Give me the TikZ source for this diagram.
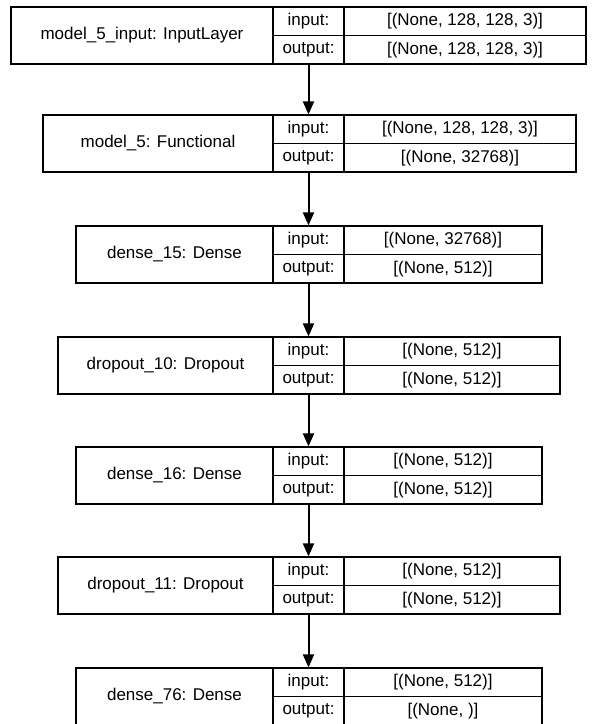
\documentclass[tikz,border=0pt]{standalone}
\usepackage{fontspec}
\setmainfont{Liberation Sans}
\usetikzlibrary{arrows.meta}
\tikzset{
  cell/.style={draw, line width=1.2pt, inner sep=0pt, rectangle, font=\fontsize{17}{19}\selectfont},
  flow/.style={line width=2pt, -{Triangle[length=13pt,width=11pt]}}
}
\newcommand\mylayer[7]{%
  % #1 id, #2 top, #3 left, #4 right, #5 name, #6 in, #7 out
  \pgfmathsetmacro\wn{273-#3}%
  \pgfmathsetmacro\wv{#4-344}%
  \pgfmathsetmacro\cn{(#3+273)/2}%
  \pgfmathsetmacro\cv{(#4+344)/2}%
  \node[cell, minimum width=\wn pt, minimum height=57pt] (#1n) at (\cn,#2+28.5) {#5};
  \node[cell, minimum width=71pt, minimum height=28.5pt] (#1i) at (308.5,#2+14.25) {input:};
  \node[cell, minimum width=71pt, minimum height=28.5pt] (#1o) at (308.5,#2+42.75) {output:};
  \node[cell, minimum width=\wv pt, minimum height=28.5pt] (#1a) at (\cv,#2+14.25) {#6};
  \node[cell, minimum width=\wv pt, minimum height=28.5pt] (#1b) at (\cv,#2+42.75) {#7};
}
\begin{document}
\begin{tikzpicture}[x=1pt,y=-1pt]
\useasboundingbox (0,0) rectangle (598,724);
\mylayer{L1}{7}{11}{586}{model\_5\_input: InputLayer}{[(None, 128, 128, 3)]}{[(None, 128, 128, 3)]}
\mylayer{L2}{115}{43}{576}{model\_5: Functional}{[(None, 128, 128, 3)]}{[(None, 32768)]}
\mylayer{L3}{226}{76}{542}{dense\_15: Dense}{[(None, 32768)]}{[(None, 512)]}
\mylayer{L4}{337}{58}{560}{dropout\_10: Dropout}{[(None, 512)]}{[(None, 512)]}
\mylayer{L5}{447}{76}{542}{dense\_16: Dense}{[(None, 512)]}{[(None, 512)]}
\mylayer{L6}{557}{58}{560}{dropout\_11: Dropout}{[(None, 512)]}{[(None, 512)]}
\mylayer{L7}{668}{76}{542}{dense\_76: Dense}{[(None, 512)]}{[(None, )]}
\draw[flow] (L1o.south) -- (L2i.north);
\draw[flow] (L2o.south) -- (L3i.north);
\draw[flow] (L3o.south) -- (L4i.north);
\draw[flow] (L4o.south) -- (L5i.north);
\draw[flow] (L5o.south) -- (L6i.north);
\draw[flow] (L6o.south) -- (L7i.north);
\end{tikzpicture}
\end{document}
